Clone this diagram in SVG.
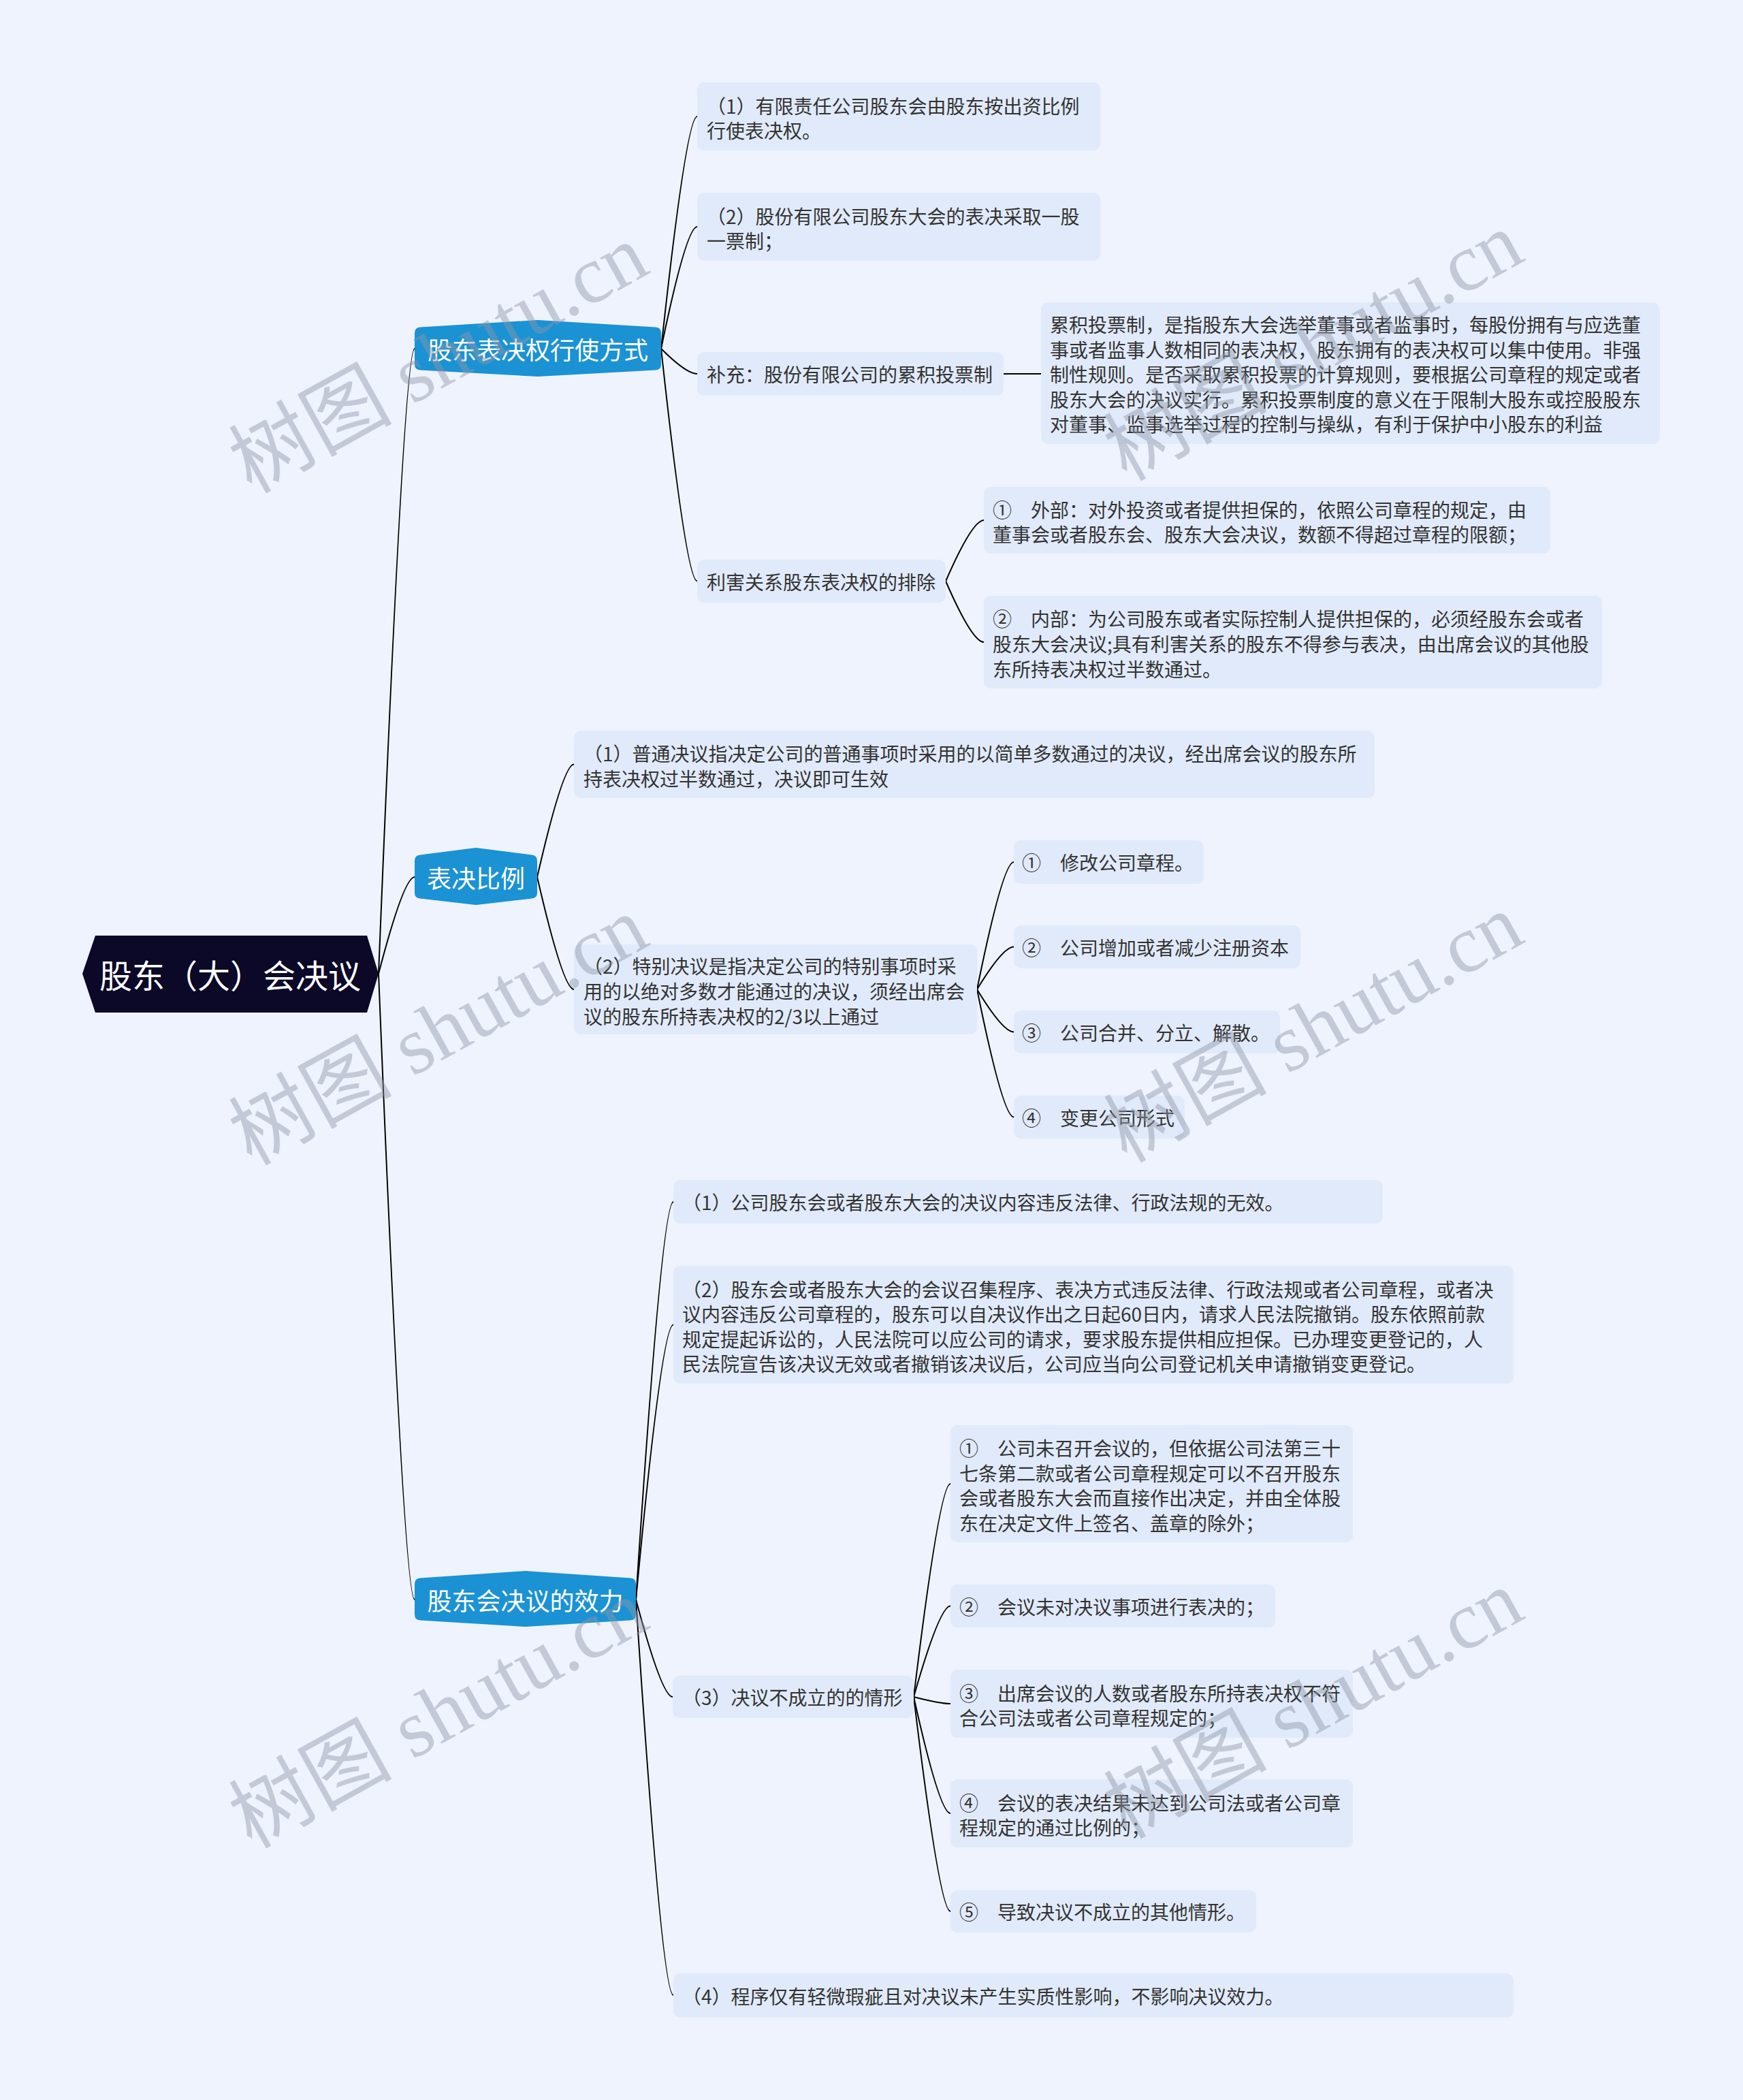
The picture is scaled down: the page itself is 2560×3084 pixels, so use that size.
<svg xmlns="http://www.w3.org/2000/svg" width="2560" height="3084" viewBox="0 0 2560 3084">
<style>
.box{fill:#e1eafa}
.t{font-family:"Noto Sans CJK SC","Microsoft YaHei",sans-serif;font-size:28px;fill:#333333;dominant-baseline:central}
.l1{fill:#1b92d3}
.lt{font-family:"Noto Sans CJK SC",sans-serif;font-size:36px;fill:#ffffff;text-anchor:middle;dominant-baseline:central}
.rt{font-family:"Noto Sans CJK SC",sans-serif;font-size:48px;fill:#ffffff;text-anchor:middle;dominant-baseline:central}
.conn path{fill:none;stroke:#000000;stroke-width:2}
.wm{font-family:"Liberation Serif","Noto Sans CJK SC",serif;font-size:120px;fill:#8e96a6;fill-opacity:0.45;text-anchor:middle;dominant-baseline:central}
</style>
<rect x="0" y="0" width="2560" height="3084" fill="#eef3fd"/>

<g class="conn">
<path d="M556,1430 Q593,512 609,512"/>
<path d="M556,1430 Q593,1288 609,1288"/>
<path d="M556,1430 Q593,2349 609,2349"/>
<path d="M971,512 Q1008,171 1024,171"/>
<path d="M971,512 Q1008,333 1024,333"/>
<path d="M971,512 Q1008,549 1024,549"/>
<path d="M971,512 Q1008,853.5 1024,853.5"/>
<path d="M1474,549 L1529,549"/>
<path d="M1389,853.5 Q1428,764 1445,764"/>
<path d="M1389,853.5 Q1428,943 1445,943"/>
<path d="M789,1288 Q827,1122.5 843,1122.5"/>
<path d="M789,1288 Q827,1453 843,1453"/>
<path d="M1435,1453 Q1473,1266 1489,1266"/>
<path d="M1435,1453 Q1473,1390.5 1489,1390.5"/>
<path d="M1435,1453 Q1473,1515.5 1489,1515.5"/>
<path d="M1435,1453 Q1473,1640.5 1489,1640.5"/>
<path d="M934,2349 Q972,1765 989,1765"/>
<path d="M934,2349 Q972,1945.5 989,1945.5"/>
<path d="M934,2349 Q972,2492 988,2492"/>
<path d="M934,2349 Q972,2930 989,2930"/>
<path d="M1342,2492 Q1380,2179 1396,2179"/>
<path d="M1342,2492 Q1380,2358.5 1396,2358.5"/>
<path d="M1342,2492 Q1380,2502 1396,2502"/>
<path d="M1342,2492 Q1380,2663 1396,2663"/>
<path d="M1342,2492 Q1380,2807 1396,2807"/>
</g>

<g id="root">
<polygon points="121,1430 140,1374 539,1374 556,1430 539,1487 140,1487" fill="#0b0828"/>
<text class="rt" x="338" y="1430">股东（大）会决议</text>
</g>

<g id="n1">
<path class="l1" d="M609,489 Q609,481 617,480.5 L790,470 L963,480.5 Q971,481 971,489 L971,535 Q971,543 963,543.5 L790,553 L617,543.5 Q609,543 609,535 Z"/>
<text class="lt" x="790" y="512">股东表决权行使方式</text>
</g>
<g id="n2">
<path class="l1" d="M609,1264 Q609,1256 617,1255.5 L699,1245 L781,1255.5 Q789,1256 789,1264 L789,1311 Q789,1319 781,1319.5 L699,1329 L617,1319.5 Q609,1319 609,1311 Z"/>
<text class="lt" x="699" y="1288">表决比例</text>
</g>
<g id="n3">
<path class="l1" d="M609,2326 Q609,2318 617,2317.5 L771.5,2307 L926,2317.5 Q934,2318 934,2326 L934,2371 Q934,2379 926,2379.5 L771.5,2389 L617,2379.5 Q609,2379 609,2371 Z"/>
<text class="lt" x="771.5" y="2349">股东会决议的效力</text>
</g>

<g id="a1">
<rect class="box" x="1024" y="121" width="592" height="100" rx="10"/>
<text class="t" x="1038" y="154.7">（1）有限责任公司股东会由股东按出资比例</text>
<text class="t" x="1038" y="191.3">行使表决权。</text>
</g>
<g id="a2">
<rect class="box" x="1024" y="283" width="592" height="100" rx="10"/>
<text class="t" x="1038" y="316.7">（2）股份有限公司股东大会的表决采取一股</text>
<text class="t" x="1038" y="353.3">一票制；</text>
</g>
<g id="a3">
<rect class="box" x="1024" y="517" width="450" height="64" rx="10"/>
<text class="t" x="1038" y="549">补充：股份有限公司的累积投票制</text>
</g>
<g id="a3a">
<rect class="box" x="1529" y="444" width="909" height="208" rx="10"/>
<text class="t" x="1542" y="476">累积投票制，是指股东大会选举董事或者监事时，每股份拥有与应选董</text>
<text class="t" x="1542" y="512.6">事或者监事人数相同的表决权，股东拥有的表决权可以集中使用。非强</text>
<text class="t" x="1542" y="549.2">制性规则。是否采取累积投票的计算规则，要根据公司章程的规定或者</text>
<text class="t" x="1542" y="585.8">股东大会的决议实行。累积投票制度的意义在于限制大股东或控股股东</text>
<text class="t" x="1542" y="622.4">对董事、监事选举过程的控制与操纵，有利于保护中小股东的利益</text>
</g>
<g id="a4">
<rect class="box" x="1024" y="822" width="365" height="63" rx="10"/>
<text class="t" x="1038" y="853.5">利害关系股东表决权的排除</text>
</g>
<g id="a4a">
<rect class="box" x="1445" y="715" width="832" height="98" rx="10"/>
<text class="t" x="1458" y="747.7">①　外部：对外投资或者提供担保的，依照公司章程的规定，由</text>
<text class="t" x="1458" y="784.3">董事会或者股东会、股东大会决议，数额不得超过章程的限额；</text>
</g>
<g id="a4b">
<rect class="box" x="1445" y="875" width="908" height="136" rx="10"/>
<text class="t" x="1458" y="908.4">②　内部：为公司股东或者实际控制人提供担保的，必须经股东会或者</text>
<text class="t" x="1458" y="945">股东大会决议;具有利害关系的股东不得参与表决，由出席会议的其他股</text>
<text class="t" x="1458" y="981.6">东所持表决权过半数通过。</text>
</g>

<g id="b1">
<rect class="box" x="843" y="1073" width="1176" height="99" rx="10"/>
<text class="t" x="857" y="1106.2">（1）普通决议指决定公司的普通事项时采用的以简单多数通过的决议，经出席会议的股东所</text>
<text class="t" x="857" y="1142.8">持表决权过半数通过，决议即可生效</text>
</g>
<g id="b2">
<rect class="box" x="843" y="1387" width="592" height="132" rx="10"/>
<text class="t" x="857" y="1418.4">（2）特别决议是指决定公司的特别事项时采</text>
<text class="t" x="857" y="1455">用的以绝对多数才能通过的决议，须经出席会</text>
<text class="t" x="857" y="1491.6">议的股东所持表决权的2/3以上通过</text>
</g>
<g id="b2a">
<rect class="box" x="1489" y="1234" width="279" height="64" rx="10"/>
<text class="t" x="1501" y="1266">①　修改公司章程。</text>
</g>
<g id="b2b">
<rect class="box" x="1489" y="1359" width="421" height="63" rx="10"/>
<text class="t" x="1501" y="1390.5">②　公司增加或者减少注册资本</text>
</g>
<g id="b2c">
<rect class="box" x="1489" y="1484" width="391" height="63" rx="10"/>
<text class="t" x="1501" y="1515.5">③　公司合并、分立、解散。</text>
</g>
<g id="b2d">
<rect class="box" x="1489" y="1609" width="251" height="63" rx="10"/>
<text class="t" x="1501" y="1640.5">④　变更公司形式</text>
</g>

<g id="c1">
<rect class="box" x="989" y="1733" width="1042" height="64" rx="10"/>
<text class="t" x="1002" y="1765">（1）公司股东会或者股东大会的决议内容违反法律、行政法规的无效。</text>
</g>
<g id="c2">
<rect class="box" x="989" y="1859" width="1234" height="173" rx="10"/>
<text class="t" x="1002" y="1892.6">（2）股东会或者股东大会的会议召集程序、表决方式违反法律、行政法规或者公司章程，或者决</text>
<text class="t" x="1002" y="1929.2">议内容违反公司章程的，股东可以自决议作出之日起60日内，请求人民法院撤销。股东依照前款</text>
<text class="t" x="1002" y="1965.8">规定提起诉讼的，人民法院可以应公司的请求，要求股东提供相应担保。已办理变更登记的，人</text>
<text class="t" x="1002" y="2002.4">民法院宣告该决议无效或者撤销该决议后，公司应当向公司登记机关申请撤销变更登记。</text>
</g>
<g id="c3">
<rect class="box" x="988" y="2461" width="354" height="62" rx="10"/>
<text class="t" x="1002" y="2492">（3）决议不成立的的情形</text>
</g>
<g id="c3a">
<rect class="box" x="1396" y="2093" width="591" height="172" rx="10"/>
<text class="t" x="1409" y="2126.1">①　公司未召开会议的，但依据公司法第三十</text>
<text class="t" x="1409" y="2162.7">七条第二款或者公司章程规定可以不召开股东</text>
<text class="t" x="1409" y="2199.3">会或者股东大会而直接作出决定，并由全体股</text>
<text class="t" x="1409" y="2235.9">东在决定文件上签名、盖章的除外；</text>
</g>
<g id="c3b">
<rect class="box" x="1396" y="2327" width="477" height="63" rx="10"/>
<text class="t" x="1409" y="2358.5">②　会议未对决议事项进行表决的；</text>
</g>
<g id="c3c">
<rect class="box" x="1396" y="2452" width="591" height="100" rx="10"/>
<text class="t" x="1409" y="2485.7">③　出席会议的人数或者股东所持表决权不符</text>
<text class="t" x="1409" y="2522.3">合公司法或者公司章程规定的；</text>
</g>
<g id="c3d">
<rect class="box" x="1396" y="2613" width="591" height="100" rx="10"/>
<text class="t" x="1409" y="2646.7">④　会议的表决结果未达到公司法或者公司章</text>
<text class="t" x="1409" y="2683.3">程规定的通过比例的；</text>
</g>
<g id="c3e">
<rect class="box" x="1396" y="2776" width="449" height="62" rx="10"/>
<text class="t" x="1409" y="2807">⑤　导致决议不成立的其他情形。</text>
</g>
<g id="c4">
<rect class="box" x="989" y="2898" width="1234" height="65" rx="10"/>
<text class="t" x="1002" y="2930.5">（4）程序仅有轻微瑕疵且对决议未产生实质性影响，不影响决议效力。</text>
</g>

<g id="watermark">
<text class="wm" transform="translate(644,527) rotate(-29)">树图 shutu.cn</text>
<text class="wm" transform="translate(1929,509) rotate(-29)">树图 shutu.cn</text>
<text class="wm" transform="translate(644,1514) rotate(-29)">树图 shutu.cn</text>
<text class="wm" transform="translate(1929,1510) rotate(-29)">树图 shutu.cn</text>
<text class="wm" transform="translate(644,2517) rotate(-29)">树图 shutu.cn</text>
<text class="wm" transform="translate(1929,2503) rotate(-29)">树图 shutu.cn</text>
</g>
</svg>
